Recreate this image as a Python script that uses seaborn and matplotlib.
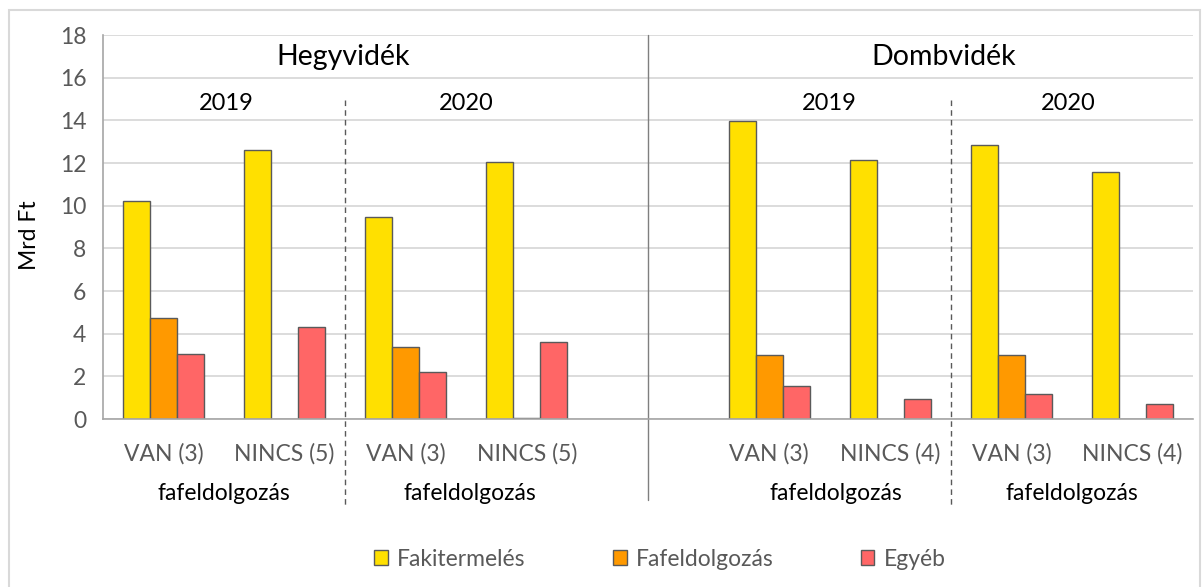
import numpy as np
import pandas as pd
import matplotlib.pyplot as plt
import matplotlib.transforms as mtransforms
from matplotlib.patches import Rectangle
import seaborn as sns

# categories (kat_kulcs must be unique, ures = empty separator slot)
kat_kulcs = ['H19_VAN', 'H19_NINCS', 'H20_VAN', 'H20_NINCS', 'ures',
             'D19_VAN', 'D19_NINCS', 'D20_VAN', 'D20_NINCS']
kat_cimke = ['VAN (3)', 'NINCS (5)', 'VAN (3)', 'NINCS (5)', '',
             'VAN (3)', 'NINCS (4)', 'VAN (3)', 'NINCS (4)']
adat_kat = ['H19_VAN', 'H19_NINCS', 'H20_VAN', 'H20_NINCS',
            'D19_VAN', 'D19_NINCS', 'D20_VAN', 'D20_NINCS']

sorok = ['Fakitermelés', 'Fafeldolgozás', 'Egyéb']
fakitermeles = [10.22, 12.62, 9.47, 12.07, 13.95, 12.13, 12.83, 11.57]
fafeldolgozas = [4.75, 0.0, 3.37, 0.03, 3.02, 0.0, 3.0, 0.0]
egyeb = [3.05, 4.33, 2.22, 3.62, 1.55, 0.92, 1.17, 0.68]

szinek = ['#FFE000', '#FF9900', '#FF6666']

rows = []
for nev, ertekek in zip(sorok, [fakitermeles, fafeldolgozas, egyeb]):
    for k, v in zip(adat_kat, ertekek):
        rows.append({'kat': k, 'sor': nev, 'ertek': v})
df = pd.DataFrame(rows)

sns.set_style('white')
plt.rcParams['font.family'] = ['Lato', 'DejaVu Sans']

fig = plt.figure(figsize=(12.02, 5.87), dpi=100)
ax = fig.add_axes([103/1202, 1-419/587, (1193-103)/1202, (419-35)/587])

sns.barplot(data=df, x='kat', y='ertek', hue='sor', order=kat_kulcs,
            hue_order=sorok, palette=szinek, saturation=1, width=0.67,
            edgecolor='#5a5a5a', linewidth=1, ax=ax)

handles, labels = ax.get_legend_handles_labels()
if ax.get_legend() is not None:
    ax.get_legend().remove()

ax.set_xlim(-0.5, 8.5)
ax.set_ylim(0, 18)
ax.set_yticks(np.arange(0, 19, 2))
ax.yaxis.grid(True, color='#d9d9d9', lw=1.3)
ax.set_axisbelow(True)
ax.set_xlabel('')
ax.set_ylabel('')

fs = 16.5
ax.set_xticks(np.arange(-0.5, 9, 1))
ax.set_xticklabels([])
ax.set_xticks(np.arange(0, 9), minor=True)
ax.set_xticklabels(kat_cimke, minor=True)
ax.tick_params(axis='x', which='major', length=8, color='#a6a6a6', width=1)
ax.tick_params(axis='x', which='minor', length=0, pad=17,
               labelsize=fs, labelcolor='#595959')
ax.tick_params(axis='y', length=7, color='#a6a6a6', width=1,
               labelsize=fs, labelcolor='#595959', pad=5)

for s in ['top', 'right']:
    ax.spines[s].set_visible(False)
for s in ['left', 'bottom']:
    ax.spines[s].set_color('#a6a6a6')
    ax.spines[s].set_linewidth(1.2)

trans = mtransforms.blended_transform_factory(ax.transData, ax.transAxes)
# region divider and year dividers
ax.plot([4, 4], [1.0, -0.21], transform=trans, color='#7f7f7f', lw=1, clip_on=False)
for xd in [1.5, 6.5]:
    ax.plot([xd, xd], [0.83, -0.225], transform=trans, color='#595959',
            lw=1, ls=(0, (4, 3)), clip_on=False)

ax.text(1.48, 16.97, 'Hegyvidék', ha='center', va='center', fontsize=20.5, color='black')
ax.text(6.44, 16.97, 'Dombvidék', ha='center', va='center', fontsize=20.5, color='black')
for xd, ev in zip([0.52, 2.5, 5.5, 7.47], ['2019', '2020', '2019', '2020']):
    ax.text(xd, 14.8, ev, ha='center', va='center', fontsize=17, color='black')
for xd in [0.5, 2.53, 5.55, 7.5]:
    ax.text(xd, -0.195, 'fafeldolgozás', transform=trans, ha='center',
            va='center', fontsize=fs, color='black')

fig.text(30/1202, 1-235/587, 'Mrd Ft', rotation=90, ha='center', va='center',
         fontsize=fs, color='black')

fig.legend(handles, labels, loc='center', bbox_to_anchor=(660/1202, 1-559/587),
           ncol=3, frameon=False, fontsize=fs, labelcolor='#595959',
           handlelength=0.6, handleheight=0.6, handletextpad=0.4,
           columnspacing=3.8)

fig.patches.append(Rectangle((9/1202, -0.01), (1200-9)/1202, 1-10/587+0.01,
                             transform=fig.transFigure, fill=False,
                             edgecolor='#d9d9d9', lw=1.5))

fig.savefig('out.png', dpi=100)
